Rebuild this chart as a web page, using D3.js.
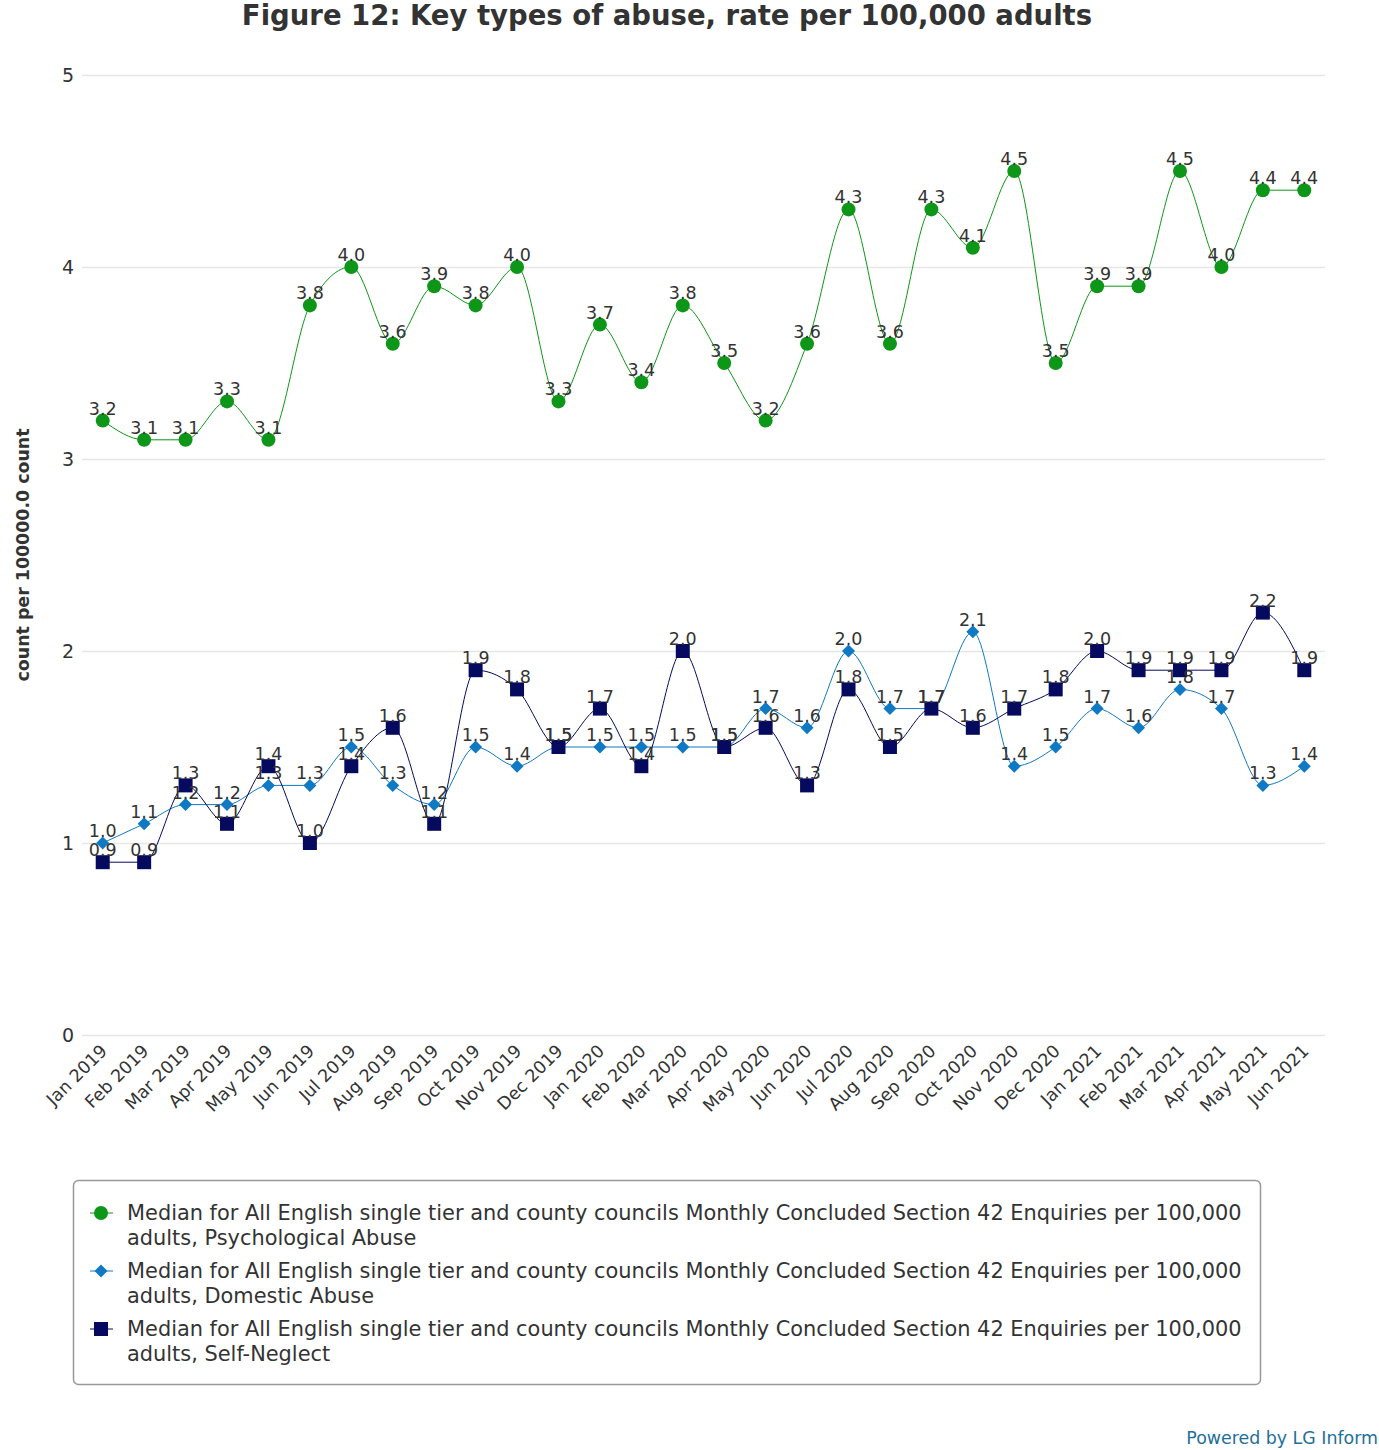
<!DOCTYPE html>
<html>
<head>
<meta charset="utf-8">
<script src="https://cdn.jsdelivr.net/npm/d3@7"></script>
<style>
  body { margin: 0; background: #fff; }
  svg { font-family: "DejaVu Sans", sans-serif; }
</style>
</head>
<body>
<svg id="svg"></svg>
<script>
// months along the x axis
var months = ["Jan 2019","Feb 2019","Mar 2019","Apr 2019","May 2019","Jun 2019","Jul 2019","Aug 2019","Sep 2019","Oct 2019","Nov 2019","Dec 2019",
  "Jan 2020","Feb 2020","Mar 2020","Apr 2020","May 2020","Jun 2020","Jul 2020","Aug 2020","Sep 2020","Oct 2020","Nov 2020","Dec 2020",
  "Jan 2021","Feb 2021","Mar 2021","Apr 2021","May 2021","Jun 2021"];

var psychological = [3.2,3.1,3.1,3.3,3.1,3.8,4.0,3.6,3.9,3.8,4.0,3.3,3.7,3.4,3.8,3.5,3.2,3.6,4.3,3.6,4.3,4.1,4.5,3.5,3.9,3.9,4.5,4.0,4.4,4.4];
var domestic = [1.0,1.1,1.2,1.2,1.3,1.3,1.5,1.3,1.2,1.5,1.4,1.5,1.5,1.5,1.5,1.5,1.7,1.6,2.0,1.7,1.7,2.1,1.4,1.5,1.7,1.6,1.8,1.7,1.3,1.4];
var selfNeglect = [0.9,0.9,1.3,1.1,1.4,1.0,1.4,1.6,1.1,1.9,1.8,1.5,1.7,1.4,2.0,1.5,1.6,1.3,1.8,1.5,1.7,1.6,1.7,1.8,2.0,1.9,1.9,1.9,2.2,1.9];

var yTicks = [0,1,2,3,4,5];

var legendPrefix = "Median for All English single tier and county councils Monthly Concluded Section 42 Enquiries per 100,000";
var seriesNames = ["Psychological Abuse","Domestic Abuse","Self-Neglect"];

const w = 1379;
const h = 1450;

const svg = d3.select("#svg")
  .attr("width", w)
  .attr("height", h);

const x = d3.scalePoint()
  .domain(months)
  .range([82, 1325])
  .padding(0.5);

const y = d3.scaleLinear()
  .domain([0, 5])
  .range([1035, 75]);

// title
svg.append("text")
  .attr("x", 667)
  .attr("y", 25)
  .attr("text-anchor", "middle")
  .attr("font-size", 27.5)
  .attr("font-weight", "bold")
  .attr("fill", "#333")
  .text("Figure 12: Key types of abuse, rate per 100,000 adults");

// gridlines + y labels
const yAxis = d3.axisLeft(y)
  .tickValues(yTicks)
  .tickFormat(d3.format("d"))
  .tickSize(-(1325 - 82))
  .tickPadding(8);

const gy = svg.append("g")
  .attr("transform", "translate(82,0)")
  .call(yAxis);
gy.select(".domain").remove();
gy.selectAll(".tick line").attr("stroke", "#e6e6e6").attr("stroke-width", 1.5);
gy.selectAll(".tick text")
  .attr("font-size", 19)
  .attr("fill", "#333")
  .attr("font-family", "DejaVu Sans, sans-serif");

svg.append("text")
  .attr("transform", "translate(29,555) rotate(-90)")
  .attr("text-anchor", "middle")
  .attr("font-size", 17.4)
  .attr("font-weight", "bold")
  .attr("fill", "#333")
  .text("count per 100000.0 count");

// x labels
const xAxis = d3.axisBottom(x).tickSize(0).tickPadding(0);
const gx = svg.append("g")
  .attr("transform", "translate(0,1035)")
  .call(xAxis);
gx.select(".domain").remove();
gx.selectAll(".tick text")
  .attr("font-size", 17.5)
  .attr("fill", "#333")
  .attr("font-family", "DejaVu Sans, sans-serif")
  .attr("text-anchor", "end")
  .attr("dy", null)
  .attr("transform", "translate(5,17) rotate(-45)");

var series = [
  { name: seriesNames[0], values: psychological, color: "#0e9618", shape: "circle" },
  { name: seriesNames[1], values: domestic, color: "#1079c4", shape: "diamond" },
  { name: seriesNames[2], values: selfNeglect, color: "#050a5e", shape: "square" }
];

const line = d3.line()
  .x((d, i) => x(months[i]))
  .y(d => y(d))
  .curve(d3.curveMonotoneX);

function marker(g, shape, color) {
  if (shape == "circle") {
    g.append("circle").attr("r", 7).attr("fill", color);
  } else if (shape == "diamond") {
    g.append("path").attr("d", "M0,-6.5L6.5,0L0,6.5L-6.5,0Z").attr("fill", color);
  } else {
    g.append("rect").attr("x", -7).attr("y", -7).attr("width", 14).attr("height", 14).attr("fill", color);
  }
}

// lines first, then markers, then labels
series.forEach(function(s) {
  svg.append("path")
    .datum(s.values)
    .attr("d", line)
    .attr("fill", "none")
    .attr("stroke", s.color)
    .attr("stroke-width", 1);
});

series.forEach(function(s) {
  s.values.forEach(function(v, i) {
    const g = svg.append("g").attr("transform", "translate(" + x(months[i]) + "," + y(v) + ")");
    marker(g, s.shape, s.color);
  });
});

series.forEach(function(s) {
  svg.append("g")
    .selectAll("text")
    .data(s.values)
    .enter()
    .append("text")
    .attr("x", (d, i) => x(months[i]))
    .attr("y", d => y(d) - 6)
    .attr("text-anchor", "middle")
    .attr("font-size", 17.5)
    .attr("fill", "#333")
    .text(d => d.toFixed(1));
});

// legend
svg.append("rect")
  .attr("x", 73.5)
  .attr("y", 1180.5)
  .attr("width", 1187)
  .attr("height", 204)
  .attr("rx", 5)
  .attr("fill", "#fff")
  .attr("stroke", "#999")
  .attr("stroke-width", 1.5);

series.forEach(function(s, k) {
  const top = 1220 + k * 58;
  const g = svg.append("g").attr("transform", "translate(0," + top + ")");
  g.append("line")
    .attr("x1", 90).attr("x2", 113)
    .attr("y1", -7).attr("y2", -7)
    .attr("stroke", s.color)
    .attr("stroke-width", 1);
  const mg = g.append("g").attr("transform", "translate(101,-7)");
  marker(mg, s.shape, s.color);
  const t = g.append("text")
    .attr("font-size", 20.9)
    .attr("fill", "#333");
  t.append("tspan").attr("x", 127).attr("y", 0).text(legendPrefix);
  t.append("tspan").attr("x", 127).attr("y", 25).text("adults, " + s.name);
});

svg.append("text")
  .attr("x", 1378)
  .attr("y", 1444)
  .attr("text-anchor", "end")
  .attr("font-size", 17.4)
  .attr("fill", "#1f7099")
  .text("Powered by LG Inform");
</script>
</body>
</html>
